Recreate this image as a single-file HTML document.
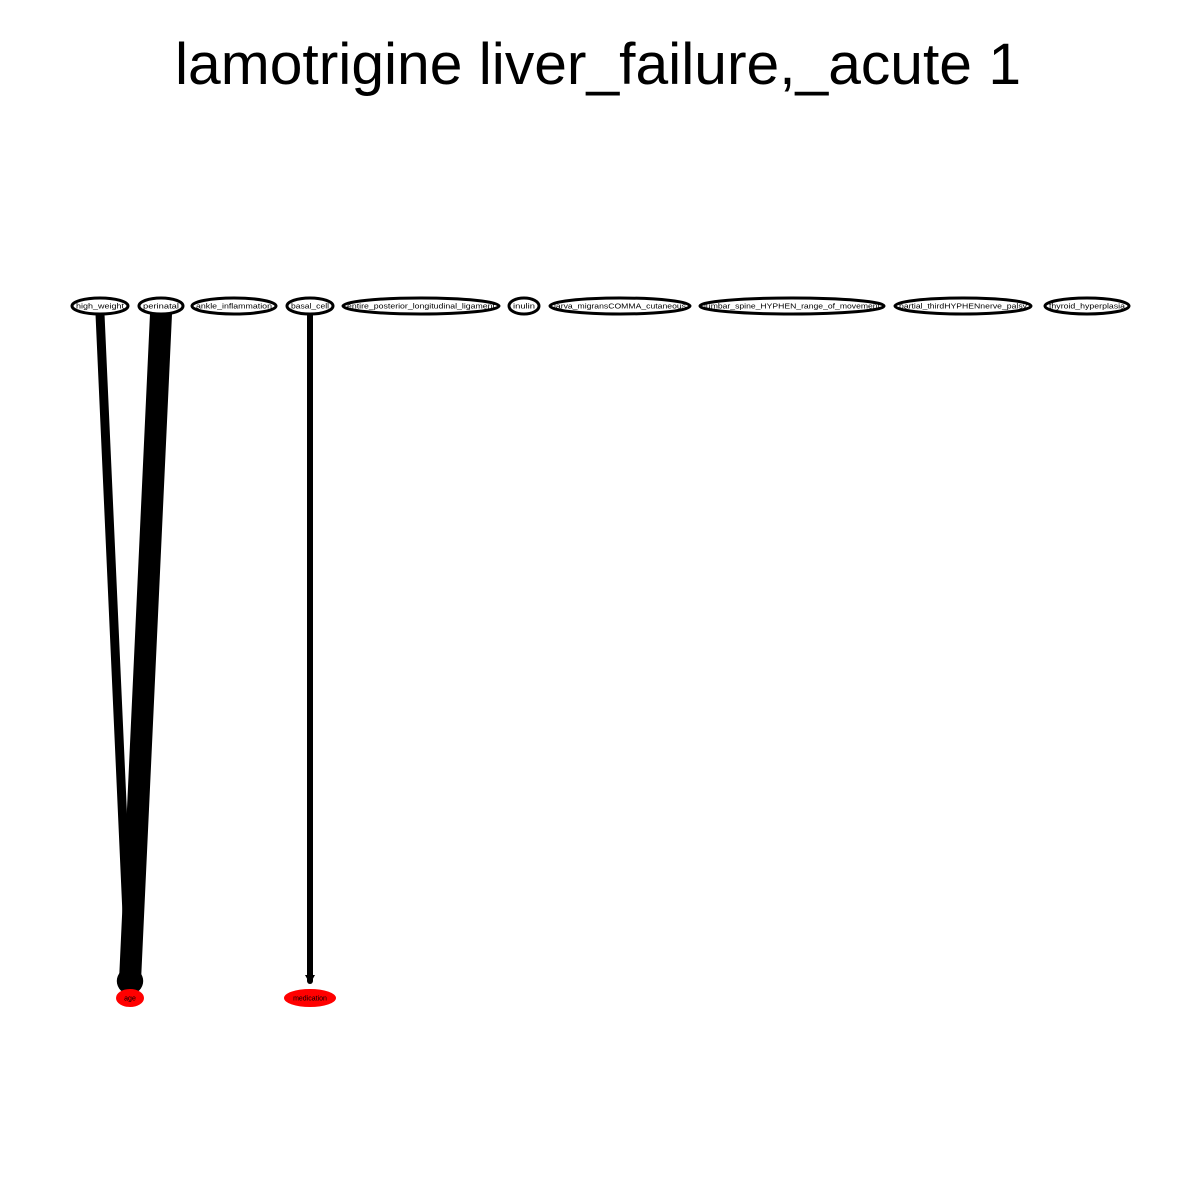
<!DOCTYPE html>
<html><head><meta charset="utf-8"><style>
body{margin:0;background:#fff}
svg{display:block}
text{font-family:"Liberation Sans",sans-serif}
</style></head><body>
<svg id="g" width="1200" height="1200">
<text x="598" y="84" text-anchor="middle" font-size="58" textLength="846" lengthAdjust="spacingAndGlyphs">lamotrigine liver_failure,_acute 1</text>
</svg>
<script>
const topLabels=["high_weight","perinatal","ankle_inflammation","basal_cell","entire_posterior_longitudinal_ligament","inulin","larva_migransCOMMA_cutaneous","lumbar_spine_HYPHEN_range_of_movement","partial_thirdHYPHENnerve_palsy","thyroid_hyperplasia"];
const topX=[100,161,234,310,421,524,620,792,963,1087];
const topRx=[28,22,42,23,78,15,70,92,68,42];
const bottomLabels=["age","medication"];
const bottomX=[130,310];
const bottomRx=[14,26];
const edgeFrom=[0,1,3];
const edgeTo=[0,0,1];
const edgeWeight=[9,22,6];
const svg=document.getElementById('g');
const NS='http://www.w3.org/2000/svg';
const TY=306,BY=998;
function mk(t,a){const e=document.createElementNS(NS,t);for(const k in a)e.setAttribute(k,a[k]);svg.appendChild(e);return e;}
edgeFrom.forEach((f,i)=>{
  const x1=topX[f],x2=bottomX[edgeTo[i]],w=edgeWeight[i];
  const y2=BY-17;
  const l=mk('line',{x1:x1,y1:TY+8,x2:x2,y2:y2,stroke:'#000','stroke-width':w,'stroke-linecap':'round'});
  
  
  if(w<10){
    const p=mk('polygon',{points:`${x2-5},${y2-6} ${x2+5},${y2-6} ${x2},${y2+3}`,fill:'#000'});
    
    
  } else {
    const c=mk('circle',{cx:x2,cy:y2,r:w*0.6,fill:'#000'});
    
    
  }
});
topLabels.forEach((s,i)=>{
  const e=mk('ellipse',{cx:topX[i],cy:TY,rx:topRx[i],ry:8,fill:'#fff',stroke:'#000','stroke-width':3});
  
  
  const t=mk('text',{x:topX[i],y:TY+2.5,'text-anchor':'middle','font-size':7,textLength:Math.max(10,topRx[i]*2-8),lengthAdjust:'spacingAndGlyphs'});
  t.textContent=s;
  
  
});
bottomLabels.forEach((s,i)=>{
  const e=mk('ellipse',{cx:bottomX[i],cy:BY,rx:bottomRx[i],ry:9,fill:'#f00'});
  
  
  const t=mk('text',{x:bottomX[i],y:BY+2.5,'text-anchor':'middle','font-size':7});
  t.textContent=s;
  
  
});
</script>
</body></html>
